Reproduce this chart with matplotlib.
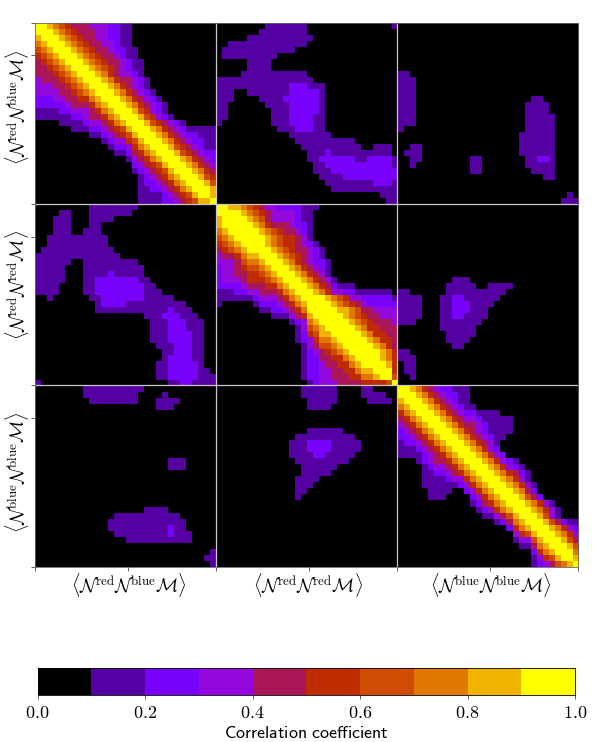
import numpy as np
import matplotlib
matplotlib.use("Agg")
import matplotlib.pyplot as plt

plt.rcParams["mathtext.fontset"] = "cm"

# Each string: colour-level digits of one row, starting at the diagonal (symmetric blocks)
AA_BAND = ["9987654443332211", "998765444332211", "99876544332211", "9987654433211",
           "9987654432211", "998765443211", "998765443211", "99876543211", "9987543321",
           "9987544321", "998754321", "998754321", "998754321", "998754321", "99865321",
           "99865321", "998654321", "9987543211111", "998754322111", "99875432211",
           "9986543211", "998654322", "99875432", "9987543", "998754", "99865", "9986",
           "998", "98", "9"]
BB_BAND = ["99887654332222111", "999876543333211", "99987643333211", "9998754443221",
           "999876544321", "99987655431", "99876554321", "99876544321", "9987654321",
           "9987543221", "998754321", "99875431", "99875431", "9987542111",
           "998753322111111", "999876533222221", "99987654322222", "9998876443333",
           "999876544333", "99987654443", "9998755444", "999875544", "99987554",
           "9998754", "999875", "99875", "9985", "995", "96", "9"]
CC_BAND = ["998754322111", "99875432211", "9987543211", "9987543211", "9987543221111",
           "99875433211111", "9987544321111", "998754321111", "9987543211", "99875431",
           "9987532", "9987532", "99875321", "99875321", "99875421", "9987531", "9987531",
           "998742", "998642", "9987531", "9987531", "998631", "99864211", "9987532",
           "998753", "99864", "9986", "997", "98", "9"]

# Off-diagonal blocks: row -> (first column, last column) spans per colour level
AB_L1 = {0: [(8, 14), (29, 29)], 1: [(7, 14)], 2: [(5, 15)], 3: [(2, 14)], 4: [(1, 12)],
         5: [(1, 9)], 6: [(5, 8)], 7: [(5, 8)], 8: [(4, 14)], 9: [(0, 15)], 10: [(0, 17)],
         11: [(0, 2), (5, 17)], 12: [(0, 2), (7, 17)], 13: [(0, 1), (8, 17)],
         14: [(0, 1), (9, 17)], 15: [(0, 1), (9, 17)], 16: [(0, 0), (9, 17)], 17: [(10, 17)],
         18: [(12, 18)], 19: [(13, 22)], 20: [(14, 23), (26, 28)], 21: [(15, 28)],
         22: [(15, 29)], 23: [(16, 29)], 24: [(16, 29)], 25: [(17, 29)], 26: [(18, 29)],
         27: [(19, 29)], 28: [(27, 29)], 29: [(28, 29)]}
AB_L2 = {10: [(12, 14)], 11: [(12, 16)], 12: [(11, 16)], 13: [(12, 16)], 14: [(12, 16)],
         15: [(12, 15)], 16: [(12, 15)], 17: [(13, 15)], 21: [(18, 18)],
         22: [(17, 22), (25, 28)], 23: [(18, 28)], 24: [(19, 29)], 25: [(21, 29)],
         26: [(26, 28)]}
AC_L1 = {8: [(0, 1)], 9: [(0, 2)], 10: [(0, 2)], 11: [(0, 2)], 12: [(0, 2), (22, 23)],
         13: [(0, 2), (21, 24)], 14: [(0, 2), (21, 24)], 15: [(0, 2), (21, 25)],
         16: [(0, 2), (21, 25)], 17: [(0, 0), (21, 25)], 18: [(20, 25)], 19: [(20, 25)],
         20: [(2, 3), (20, 25)], 21: [(1, 3), (20, 25)], 22: [(2, 3), (12, 13), (21, 25)],
         23: [(2, 2), (12, 13), (21, 25)], 24: [(12, 13), (22, 25)], 25: [(24, 25)],
         28: [(28, 28)], 29: [(27, 29)]}
AC_L2 = {22: [(23, 24)]}
BC_L1 = {12: [(9, 11)], 13: [(8, 12), (15, 18)], 14: [(0, 1), (8, 17)],
         15: [(0, 3), (7, 16)], 16: [(0, 3), (7, 15)], 17: [(0, 3), (7, 14)],
         18: [(0, 3), (7, 14)], 19: [(0, 2), (7, 13)], 20: [(7, 12)], 21: [(8, 12)],
         22: [(8, 11)], 23: [(9, 10)], 24: [(0, 1)], 25: [(0, 2)], 26: [(1, 2)],
         27: [(1, 2)], 28: [(2, 2)]}
BC_L2 = {15: [(9, 10)], 16: [(9, 11)], 17: [(9, 11)], 18: [(9, 10)]}

BLOCK_LABELS = [r"$\langle\mathcal{N}^{\mathrm{red}}\mathcal{N}^{\mathrm{blue}}\mathcal{M}\rangle$",
                r"$\langle\mathcal{N}^{\mathrm{red}}\mathcal{N}^{\mathrm{red}}\mathcal{M}\rangle$",
                r"$\langle\mathcal{N}^{\mathrm{blue}}\mathcal{N}^{\mathrm{blue}}\mathcal{M}\rangle$"]
X_LABEL_TICKS = [15.4, 45.4, 75.4]
Y_LABEL_TICKS = [5.4, 35.4, 65.4]
EDGE_TICKS = [0, 30, 60, 90]
CBAR_TICKS = [0.0, 0.2, 0.4, 0.6, 0.8, 1.0]
CBAR_LABELS = ["$0.0$", "$0.2$", "$0.4$", "$0.6$", "$0.8$", "$1.0$"]


def build_matrix():
    m = np.zeros((90, 90), dtype=int)
    for off, band in zip((0, 30, 60), (AA_BAND, BB_BAND, CC_BAND)):
        for r, s in enumerate(band):
            for k, ch in enumerate(s):
                m[off + r, off + r + k] = m[off + r + k, off + r] = int(ch)
    for (ro, co, lv, spans) in ((0, 30, 1, AB_L1), (0, 30, 2, AB_L2), (0, 60, 1, AC_L1),
                                (0, 60, 2, AC_L2), (30, 60, 1, BC_L1), (30, 60, 2, BC_L2)):
        for r, lst in spans.items():
            for a, b in lst:
                m[ro + r, co + a:co + b + 1] = lv
                m[co + a:co + b + 1, ro + r] = lv
    return (m + 0.5) / 10.0


W, H = 598, 742
fig = plt.figure(figsize=(W / 100, H / 100), dpi=100)
ax = fig.add_axes([34.8 / W, 1 - 566.7 / H, 543.4 / W, 544.0 / H])
cmap = plt.get_cmap("gnuplot", 10)
im = ax.imshow(build_matrix(), cmap=cmap, vmin=0, vmax=1, extent=(0, 90, 90, 0),
               aspect="auto", interpolation="nearest")
for v in (30, 60):
    ax.axvline(v, color="#c8c8c8", lw=0.9)
    ax.axhline(v, color="#c8c8c8", lw=0.9)
for s in ax.spines.values():
    s.set_linewidth(0.6)
    s.set_color("#666666")

ax.set_xticks(X_LABEL_TICKS)
ax.set_xticklabels([])
ax.set_xticks(EDGE_TICKS, minor=True)
ax.set_yticks(Y_LABEL_TICKS)
ax.set_yticklabels([])
ax.set_yticks(EDGE_TICKS, minor=True)
ax.tick_params(which="both", length=3.0, width=0.6, color="#444444")
for lab, xc in zip(BLOCK_LABELS, (128.5, 308.5, 490.5)):
    fig.text(xc / W, 1 - 585 / H, lab, fontsize=13.3, ha="center", va="center")
for lab, yc in zip(BLOCK_LABELS, (107, 285, 472)):
    fig.text(17 / W, 1 - yc / H, lab, rotation=90, fontsize=13.3, ha="center", va="center")

cax = fig.add_axes([37.5 / W, 1 - 695 / H, 537.5 / W, 27 / H])
cb = fig.colorbar(im, cax=cax, orientation="horizontal", ticks=CBAR_TICKS)
cb.set_ticklabels(CBAR_LABELS)
cb.ax.tick_params(labelsize=13, length=3.0, width=0.6, pad=3.5, color="#444444")
cb.outline.set_linewidth(0.6)
cb.set_label(r"$\mathsf{Correlation\ coefficient}$", fontsize=12.9, labelpad=1.5)

fig.savefig("out.png", dpi=100)
